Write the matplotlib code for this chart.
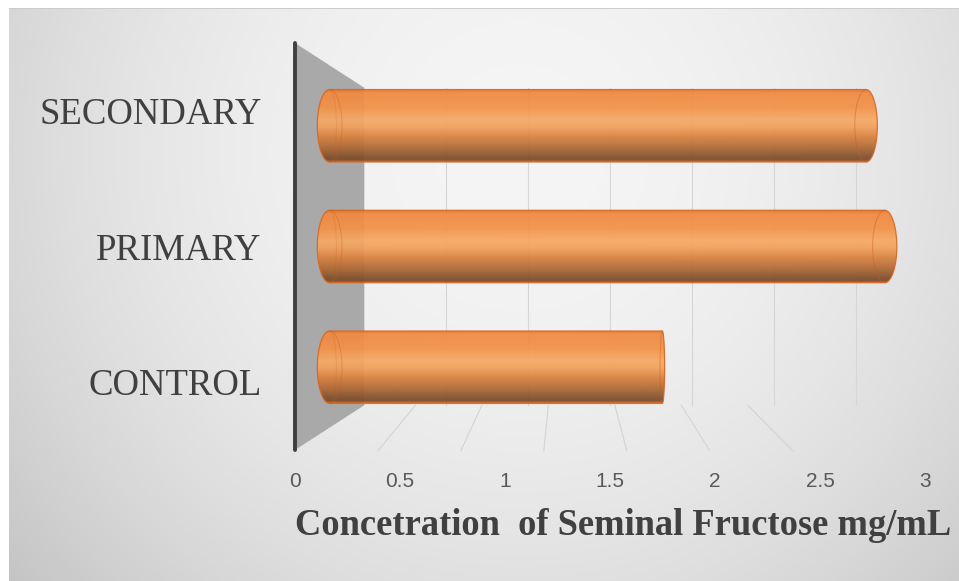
import numpy as np
import matplotlib
matplotlib.use("Agg")
import matplotlib.pyplot as plt
from matplotlib.patches import Polygon, PathPatch
from matplotlib.path import Path
from matplotlib.transforms import Affine2D
from matplotlib.colors import to_rgb

# Seminal fructose by group
categories = ["CONTROL", "PRIMARY", "SECONDARY"]
fructose = [1.78, 2.97, 2.87]

xticks = [0, 0.5, 1, 1.5, 2, 2.5, 3]
xtick_labels = ["0", "0.5", "1", "1.5", "2", "2.5", "3"]

W, H = 959, 581
fig = plt.figure(figsize=(W / 100, H / 100), dpi=100)

# ---- background: soft radial grey panel with a white margin ----
bg = fig.add_axes([0, 0, 1, 1], zorder=-1)
yy, xx = np.mgrid[0:H, 0:W]
r = np.hypot(xx - 520, yy - 150) / 668.0
shade = 0.96 - 0.19 * r ** 2
img = np.dstack([shade] * 3)
img[:8, :, :] = 1.0
img[:, :9, :] = 1.0
img[8, 9:, :] = 0.80
bg.imshow(img, extent=[0, W, H, 0], interpolation="bilinear")
bg.set_xlim(0, W)
bg.set_ylim(H, 0)
bg.axis("off")

# ---- plot area (front plane of the 3D box) ----
ax = fig.add_axes([295 / W, 131 / H, 630 / W, 407 / H])
ax.set_facecolor("none")
for sp in ax.spines.values():
    sp.set_visible(False)

VP = 1.5       # vanishing point in data units (x and y)
BACK = 0.22    # shrink factor of the back plane


def depth_tr(d):
    s = 1 - BACK * d
    return Affine2D().translate(-VP, -VP).scale(s).translate(VP, VP) + ax.transData


def project(x, y, d):
    s = 1 - BACK * d
    return VP + s * (x - VP), VP + s * (y - VP)


# side wall
wall = Polygon([(0, 0), (0, 3), project(0, 3, 1), project(0, 0, 1)],
               closed=True, facecolor="#a9a9a9", edgecolor="none", zorder=1)
ax.add_patch(wall)

# back wall grid
for v in xticks[1:]:
    ax.plot([v, v], [0, 3], transform=depth_tr(1), color="#d6d6d6", lw=0.8, zorder=0.5)

# floor grid
for v in xticks[1:]:
    ax.plot([0.257 + 0.633 * v, 0.79 * v], [0.33, -0.005], color="#d4d4d4",
            lw=0.8, zorder=0.5, clip_on=False)

# value axis line
ax.plot([0, 0], [0, 3], color="#3f3f3f", lw=2.8, solid_capstyle="round",
        zorder=2, clip_on=False)

# ---- cylinders ----
stops = [(0.00, "#e0742a"), (0.05, "#f08a42"), (0.25, "#f29248"),
         (0.42, "#f6aa66"), (0.52, "#f2a05c"), (0.65, "#d98240"),
         (0.80, "#b06a35"), (0.92, "#85532e"), (0.97, "#7a4a2a"),
         (1.00, "#d06a22")]
t = np.linspace(0, 1, 200)
pos = [p for p, _ in stops]
cols = np.array([to_rgb(c) for _, c in stops])
grad = np.stack([np.interp(t, pos, cols[:, i]) for i in range(3)] +
                [np.full_like(t, 0.94)], axis=-1)[:, None, :]

K = 0.044          # cap bulge per unit distance from the vanishing point
half = 0.3         # half bar thickness
mid = depth_tr(0.5)
th = np.linspace(np.pi / 2, -np.pi / 2, 40)

for i, val in enumerate(fructose):
    yc = i + 0.5
    w0 = abs(K * (0 - VP))
    wv = K * (val - VP)
    right = np.column_stack([val + wv * np.cos(th), yc + half * np.sin(th)])
    left = np.column_stack([-w0 * np.cos(th[::-1]), yc + half * np.sin(th[::-1])])
    verts = np.vstack([[[0, yc + half]], right, left, [[0, yc + half]]])
    body = PathPatch(Path(verts), facecolor="none", edgecolor="#d9661f",
                     lw=0.9, alpha=0.9, transform=mid, zorder=4)
    ax.add_patch(body)

    im = ax.imshow(grad, extent=[-w0 - 0.01, val + abs(wv) + 0.01, yc - half, yc + half],
                   transform=mid, aspect="auto", interpolation="bilinear", zorder=3)
    im.set_clip_path(body)

    # visible back rim of the far cap
    ax.plot(val - wv * np.cos(th), yc + half * np.sin(th), transform=mid,
            color="#c45e1c", lw=0.7, alpha=0.45, zorder=4)
    # rims of the near cap
    for f, a in [(1.0, 0.35), (0.55, 0.2)]:
        ax.plot(w0 * f * np.cos(th), yc + half * np.sin(th), transform=mid,
                color="#c45e1c", lw=0.7, alpha=a, zorder=4)

ax.set_xlim(0, 3)
ax.set_ylim(0, 3)

ax.set_yticks([0.5, 1.5, 2.5], categories)
ax.set_xticks(xticks, xtick_labels)
ax.tick_params(axis="y", length=0, pad=24, labelsize=26.5, labelcolor="#404040")
ax.tick_params(axis="x", length=0, pad=16, labelsize=15, labelcolor="#595959")
for lab in ax.get_yticklabels():
    lab.set_family("Liberation Serif")
for lab in ax.get_xticklabels():
    lab.set_family("Liberation Sans")

fig.text(295 / W, (H - 535) / H, "Concetration  of Seminal Fructose mg/mL",
         ha="left", va="baseline", fontsize=26.3, fontweight="bold",
         family="Liberation Serif", color="#404040")

fig.savefig("out.png", dpi=100)
